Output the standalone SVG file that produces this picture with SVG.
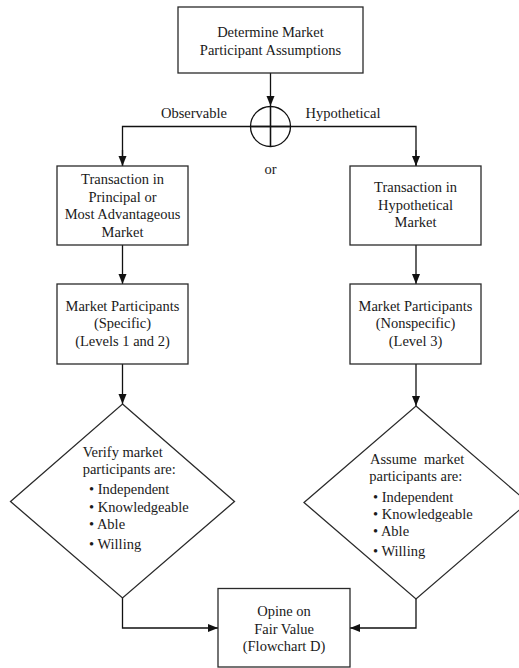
<svg xmlns="http://www.w3.org/2000/svg" width="519" height="668" viewBox="0 0 519 668">
  <style>
    .box { fill: #ffffff; stroke: #2a2a2a; stroke-width: 1.3; }
    .line { fill: none; stroke: #111111; stroke-width: 1.3; }
    text { font-family: "Liberation Serif", "Times New Roman", serif; font-size: 14.5px; fill: #1a1a1a; }
    .c { text-anchor: middle; }
  </style>
  <defs>
    <marker id="arrow" markerUnits="userSpaceOnUse" markerWidth="10" markerHeight="10" viewBox="0 0 10 10" refX="10" refY="5" orient="auto">
      <path d="M0,1 L10,5 L0,9 Z" fill="#111111"/>
    </marker>
  </defs>
  <rect width="519" height="668" fill="#ffffff"/>

  <!-- connectors -->
  <g id="connectors">
    <line class="line" x1="270.5" y1="73" x2="270.5" y2="106" marker-end="url(#arrow)"/>
    <polyline class="line" points="122.5,166 122.5,126.5 416,126.5 416,166" />
    <line class="line" x1="122.5" y1="150" x2="122.5" y2="166" marker-end="url(#arrow)"/>
    <line class="line" x1="416" y1="150" x2="416" y2="166" marker-end="url(#arrow)"/>
    <line class="line" x1="270.5" y1="106" x2="270.5" y2="146"/>
    <line class="line" x1="122.5" y1="245" x2="122.5" y2="284" marker-end="url(#arrow)"/>
    <line class="line" x1="416" y1="245" x2="416" y2="284" marker-end="url(#arrow)"/>
    <line class="line" x1="122.5" y1="364" x2="122.5" y2="404" marker-end="url(#arrow)"/>
    <line class="line" x1="416" y1="364" x2="416" y2="406" marker-end="url(#arrow)"/>
    <polyline class="line" points="122.5,598 122.5,628 218,628" marker-end="url(#arrow)"/>
    <polyline class="line" points="416,599 416,628 350,628" marker-end="url(#arrow)"/>
    <text x="194" y="118" class="c">Observable</text>
    <text x="343" y="118" class="c">Hypothetical</text>
  </g>

  <g id="start">
    <rect class="box" x="178" y="7" width="185" height="66"/>
    <text x="270.5" y="37" class="c">Determine Market</text>
    <text x="270.5" y="55" class="c">Participant Assumptions</text>
  </g>

  <g id="or-junction">
    <circle cx="270.5" cy="126.5" r="20" fill="none" stroke="#111111" stroke-width="1.3"/>
    <line class="line" x1="250.5" y1="126.5" x2="290.5" y2="126.5"/>
    <line class="line" x1="270.5" y1="106.5" x2="270.5" y2="146.5"/>
    <text x="270.5" y="174" class="c">or</text>
  </g>

  <g id="principal-market">
    <rect class="box" x="57" y="166" width="131" height="79"/>
    <text x="122.5" y="184" class="c">Transaction in</text>
    <text x="122.5" y="201.5" class="c">Principal or</text>
    <text x="122.5" y="219" class="c">Most Advantageous</text>
    <text x="122.5" y="236.5" class="c">Market</text>
  </g>

  <g id="hypothetical-market">
    <rect class="box" x="350" y="166" width="131" height="79"/>
    <text x="415.5" y="192" class="c">Transaction in</text>
    <text x="415.5" y="209.5" class="c">Hypothetical</text>
    <text x="415.5" y="227" class="c">Market</text>
  </g>

  <g id="participants-specific">
    <rect class="box" x="57" y="284" width="131" height="80"/>
    <text x="122.5" y="310.5" class="c">Market Participants</text>
    <text x="122.5" y="328" class="c">(Specific)</text>
    <text x="122.5" y="345.5" class="c">(Levels 1 and 2)</text>
  </g>

  <g id="participants-nonspecific">
    <rect class="box" x="350" y="284" width="131" height="80"/>
    <text x="415.5" y="310.5" class="c">Market Participants</text>
    <text x="415.5" y="328" class="c">(Nonspecific)</text>
    <text x="415.5" y="345.5" class="c">(Level 3)</text>
  </g>

  <g id="verify">
    <polygon class="box" points="122.5,404 234.5,501.5 122.5,598 10.5,501.5"/>
    <text x="82.7" y="456.7">Verify market</text>
    <text x="82.7" y="474">participants are:</text>
    <text x="89" y="494">• Independent</text>
    <text x="89" y="511.7">• Knowledgeable</text>
    <text x="89" y="529.3">• Able</text>
    <text x="89" y="549">• Willing</text>
  </g>

  <g id="assume">
    <polygon class="box" points="416,406 528,502.5 416,599 304,502.5"/>
    <text x="370" y="464" xml:space="preserve">Assume  market</text>
    <text x="369.3" y="481">participants are:</text>
    <text x="373" y="502">• Independent</text>
    <text x="373" y="519">• Knowledgeable</text>
    <text x="373" y="536">• Able</text>
    <text x="373" y="556">• Willing</text>
  </g>

  <g id="fair-value">
    <rect class="box" x="218" y="588.5" width="132" height="78.5"/>
    <text x="284" y="616" class="c">Opine on</text>
    <text x="284" y="633.5" class="c">Fair Value</text>
    <text x="284" y="651" class="c">(Flowchart D)</text>
  </g>
</svg>
